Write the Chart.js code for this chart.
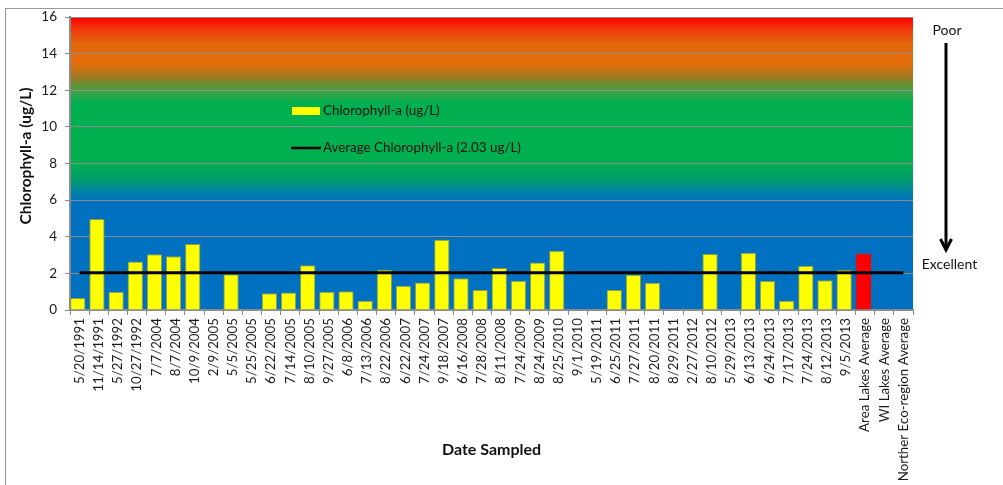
<!DOCTYPE html>
<html><head><meta charset="utf-8">
<script src="https://cdn.jsdelivr.net/npm/chart.js@4/dist/chart.umd.min.js"></script>
<style>html,body{margin:0;padding:0;background:#fff;}#wrap{width:1003px;height:485px;}</style>
</head><body><div id="wrap"><canvas id="c" width="1003" height="485"></canvas></div>
<script>
const categories = ['5/20/1991','11/14/1991','5/27/1992','10/27/1992','7/7/2004','8/7/2004','10/9/2004','2/9/2005','5/5/2005','5/25/2005','6/22/2005','7/14/2005','8/10/2005','9/27/2005','6/8/2006','7/13/2006','8/22/2006','6/22/2007','7/24/2007','9/18/2007','6/16/2008','7/28/2008','8/11/2008','7/24/2009','8/24/2009','8/25/2010','9/1/2010','5/19/2011','6/25/2011','7/27/2011','8/20/2011','8/29/2011','2/27/2012','8/10/2012','5/29/2013','6/13/2013','6/24/2013','7/17/2013','7/24/2013','8/12/2013','9/5/2013','Area Lakes Average','WI Lakes Average','Norther Eco-region Average'];
const chlorophyll = [0.65,4.97,1.0,2.65,3.05,2.93,3.6,null,1.95,null,0.91,0.95,2.44,1.0,1.02,0.5,2.2,1.33,1.5,3.84,1.73,1.09,2.3,1.6,2.59,3.24,null,null,1.09,1.93,1.49,null,null,3.06,null,3.13,1.58,0.5,2.42,1.62,2.19,3.08,null,null];
const spacer = [];
const averageChlorophyll = 2.03;
const yTicks = [0,2,4,6,8,10,12,14,16];
const highlightCategory = 'Area Lakes Average';
const seriesLabel = 'Chlorophyll-a (ug/L)';
const averageLabel = 'Average Chlorophyll-a (2.03 ug/L)';
const yTitle = 'Chlorophyll-a (ug/L)';
const xTitle = 'Date Sampled';
const FONT = 'Lato';

const bgPlugin = {
  id: 'bg',
  beforeDraw(chart) {
    const {ctx, chartArea: a} = chart;
    ctx.save();
    ctx.fillStyle = '#fff';
    ctx.fillRect(0, 0, chart.width, chart.height);
    const g = ctx.createLinearGradient(0, a.top, 0, a.bottom);
    g.addColorStop(0, '#FF0000');
    g.addColorStop(0.045, '#F03A0E');
    g.addColorStop(0.09, '#E4680C');
    g.addColorStop(0.16, '#E46C0A');
    g.addColorStop(0.205, '#A07A22');
    g.addColorStop(0.25, '#44A042');
    g.addColorStop(0.295, '#00B050');
    g.addColorStop(0.5, '#00B050');
    g.addColorStop(0.56, '#009A70');
    g.addColorStop(0.6, '#0080A8');
    g.addColorStop(0.63, '#0070C0');
    g.addColorStop(1, '#0070C0');
    ctx.fillStyle = g;
    ctx.fillRect(a.left, a.top, a.right - a.left, a.bottom - a.top);
    ctx.restore();
  },
  afterDraw(chart) {
    const ctx = chart.ctx;
    ctx.save();
    // outer border
    ctx.strokeStyle = '#9a9a9a';
    ctx.lineWidth = 1;
    ctx.strokeRect(5.5, 8.5, 1010, 500);
    // y axis title
    ctx.save();
    ctx.translate(26, 156);
    ctx.rotate(-Math.PI / 2);
    ctx.font = 'bold 15.5px ' + FONT;
    ctx.fillStyle = '#111';
    ctx.textAlign = 'center';
    ctx.textBaseline = 'middle';
    ctx.fillText(yTitle, 0, 0);
    ctx.restore();
    // legend
    const ds = chart.data.datasets;
    ctx.font = '13.4px ' + FONT;
    ctx.textBaseline = 'middle';
    ctx.textAlign = 'left';
    ctx.fillStyle = '#FFFF00';
    ctx.fillRect(292, 107, 28, 8);
    ctx.fillStyle = '#111';
    ctx.fillText(ds[0].label, 323, 111);
    ctx.strokeStyle = '#000';
    ctx.lineWidth = 2.5;
    ctx.beginPath(); ctx.moveTo(291, 148); ctx.lineTo(321, 148); ctx.stroke();
    ctx.fillText(ds[2].label, 323, 148);
    // Poor / Excellent arrow
    ctx.font = '14px ' + FONT;
    ctx.textAlign = 'center';
    ctx.fillText('Poor', 947, 30);
    ctx.fillText('Excellent', 949.5, 264);
    ctx.lineWidth = 3;
    ctx.beginPath(); ctx.moveTo(946, 43); ctx.lineTo(946, 250); ctx.stroke();
    ctx.beginPath(); ctx.moveTo(940.5, 239); ctx.lineTo(946, 250); ctx.lineTo(951.5, 239); ctx.stroke();
    ctx.restore();
  }
};

new Chart(document.getElementById('c'), {
  data: {
    labels: categories,
    datasets: [
      {
        type: 'bar', label: seriesLabel, data: chlorophyll,
        backgroundColor: categories.map(c => c === highlightCategory ? '#FF0000' : '#FFFF00'),
        borderColor: categories.map(c => c === highlightCategory ? '#FF0000' : '#8E9A4A'),
        borderWidth: 1, categoryPercentage: 0.372, barPercentage: 4.3, order: 2
      },
      { type: 'bar', label: 'spacer', data: spacer, categoryPercentage: 0.372, barPercentage: 4.3, order: 3 },
      {
        type: 'line', label: averageLabel,
        data: [{x: categories[0], y: averageChlorophyll}, {x: categories[categories.length - 1], y: averageChlorophyll}],
        borderColor: '#000', borderWidth: 3, pointRadius: 0, order: 1
      }
    ]
  },
  options: {
    responsive: false, animation: false,
    layout: {padding: {left: 0, right: 90, top: 17, bottom: 0}},
    plugins: {legend: {display: false}, tooltip: {enabled: false}},
    scales: {
      x: {
        type: 'category',
        offset: true,
        grid: {offset: true, drawOnChartArea: false, drawTicks: true, tickLength: 5, color: '#8c8c8c'},
        border: {color: '#8c8c8c', width: 1.5},
        ticks: {autoSkip: false, maxRotation: 90, minRotation: 90, padding: 3, color: '#1a1a1a', font: {family: FONT, size: 13.3}},
        title: {display: true, text: xTitle, color: '#111', font: {family: FONT, size: 16, weight: 'bold'}, padding: {top: 4, bottom: 26}},
        afterFit(s) { s.height = 175; }
      },
      y: {
        min: 0, max: 16,
        afterBuildTicks(s) { s.ticks = yTicks.map(v => ({value: v})); },
        grid: {color: '#8c8c8c', lineWidth: 1, drawTicks: true, tickLength: 5},
        border: {color: '#8c8c8c', width: 2},
        ticks: {padding: 8, color: '#1a1a1a', font: {family: FONT, size: 13.5}},
        afterFit(s) { s.width = 70; }
      }
    }
  },
  plugins: [bgPlugin]
});
</script></body></html>
